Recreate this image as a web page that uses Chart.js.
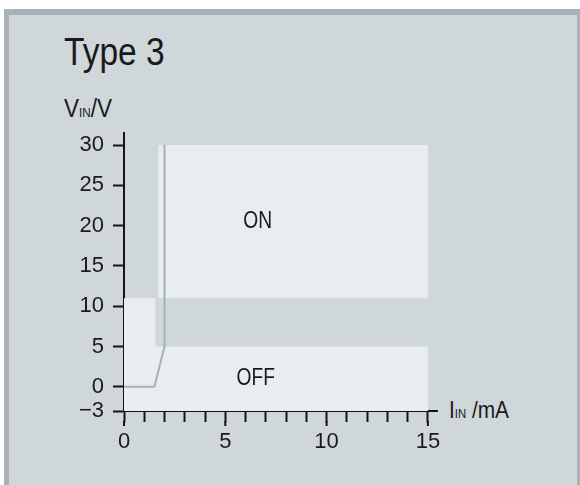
<!DOCTYPE html>
<html>
<head>
<meta charset="utf-8">
<script src="https://cdn.jsdelivr.net/npm/chart.js@4"></script>
<style>
  html, body { margin: 0; padding: 0; background: #fff; }
  body { width: 580px; height: 485px; position: relative; overflow: hidden; }
  .frame {
    position: absolute; left: 4px; top: 9px; width: 568px; height: 490px;
    background: #cfd7db;
    border-left: 5px solid #a8b3b8; border-top: 6px solid #a8b3b8; border-right: 3px solid #a8b3b8;
  }
  .txt { position: absolute; color: #1a1a1a; font-family: 'Liberation Sans', Arial, sans-serif; white-space: nowrap; transform-origin: 0 0; }
  .title { left: 64px; top: 30px; font-size: 39px; transform: scaleX(0.86); }
  .ylab { left: 64px; top: 94px; font-size: 25px; transform: scaleX(0.9); }
  .xlab { left: 449px; top: 396px; font-size: 24px; transform: scaleX(0.87); }
  .sub { font-size: 13px; text-transform: uppercase; }
  canvas { position: absolute; left: 0; top: 0; }
</style>
</head>
<body>
<div class="frame"></div>
<div class="txt title">Type 3</div>
<div class="txt ylab">V<span class="sub">in</span>/V</div>
<div class="txt xlab">I<span class="sub">in</span> /mA</div>
<canvas id="c" width="580" height="485"></canvas>
<script>
// characteristic curve
const curveI = [0, 1.5, 2.0, 2.0]
const curveV = [0, 0, 5, 30]

// switching zones (current range, voltage range)
const onZoneI = [1.7, 15]
const onZoneV = [11, 30]
const offZoneI = [0, 15]
const offZoneV = [-3, 5]
const lowZoneI = [0, 1.55]
const lowZoneV = [-3, 11]

const zoneNames = ['ON', 'OFF']
const zoneNameI = [6.6, 6.5]
const zoneNameV = [20.5, 1.1]

const xTicks = [0, 1, 2, 3, 4, 5, 6, 7, 8, 9, 10, 11, 12, 13, 14, 15]
const xTickLabels = ['0', '', '', '', '', '5', '', '', '', '', '10', '', '', '', '', '15']
const yTicks = [-3, 0, 5, 10, 15, 20, 25, 30]

const zoneColor = '#e8eeef'
const axisColor = '#141414'

const zones = {
  id: 'zones',
  beforeDatasetsDraw(chart) {
    const { ctx, scales: { x, y } } = chart
    ctx.save()
    ctx.fillStyle = zoneColor
    ;[[onZoneI, onZoneV], [offZoneI, offZoneV], [lowZoneI, lowZoneV]].forEach(([zi, zv]) => {
      const x0 = x.getPixelForValue(zi[0]), x1 = x.getPixelForValue(zi[1])
      const y0 = y.getPixelForValue(zv[0]), y1 = y.getPixelForValue(zv[1])
      ctx.fillRect(x0, y1, x1 - x0, y0 - y1)
    })
    ctx.restore()
  },
  afterDatasetsDraw(chart) {
    const { ctx, scales: { x, y } } = chart
    ctx.save()
    ctx.fillStyle = '#1a1a1a'
    ctx.font = "24px 'Liberation Sans', Arial, sans-serif"
    ctx.textAlign = 'center'
    ctx.textBaseline = 'middle'
    zoneNames.forEach((n, i) => {
      const px = x.getPixelForValue(zoneNameI[i]), py = y.getPixelForValue(zoneNameV[i])
      ctx.save()
      ctx.translate(px, py)
      ctx.scale(0.8, 1)
      ctx.fillText(n, 0, 0)
      ctx.restore()
    })
    // longer major ticks on the current axis
    ctx.strokeStyle = axisColor
    ctx.lineWidth = 2
    xTicks.forEach((v, i) => {
      if (!xTickLabels[i]) return
      const px = x.getPixelForValue(v)
      ctx.beginPath()
      ctx.moveTo(px, y.bottom + 10)
      ctx.lineTo(px, y.bottom + 15)
      ctx.stroke()
    })
    ctx.restore()
  }
}

new Chart(document.getElementById('c'), {
  type: 'scatter',
  data: {
    datasets: [{
      data: curveI.map((v, i) => ({ x: v, y: curveV[i] })),
      showLine: true,
      borderColor: '#a3b1b8',
      borderWidth: 2,
      pointRadius: 0,
      tension: 0
    }]
  },
  options: {
    responsive: false,
    devicePixelRatio: 1,
    animation: false,
    layout: { padding: { left: 0, top: 133, right: 143, bottom: 0 } },
    plugins: { legend: { display: false }, tooltip: { enabled: false } },
    scales: {
      x: {
        type: 'linear',
        min: 0,
        max: 15.45,
        afterFit: (s) => { s.height = 74 },
        afterBuildTicks: (s) => { s.ticks = xTicks.map(v => ({ value: v })) },
        border: { display: true, color: axisColor, width: 2 },
        grid: { drawOnChartArea: false, drawTicks: true, tickLength: 11, tickColor: axisColor, tickWidth: 2 },
        ticks: {
          color: '#1a1a1a',
          padding: 7,
          autoSkip: false,
          maxRotation: 0,
          minRotation: 0,
          font: { family: "'Liberation Sans', Arial, sans-serif", size: 22 },
          callback: (v, i) => xTickLabels[i]
        }
      },
      y: {
        type: 'linear',
        min: -3,
        max: 31.5,
        afterFit: (s) => { s.width = 124 },
        afterBuildTicks: (s) => { s.ticks = yTicks.map(v => ({ value: v })) },
        border: { display: true, color: axisColor, width: 2 },
        grid: { drawOnChartArea: false, drawTicks: true, tickLength: 11, tickColor: axisColor, tickWidth: 2 },
        ticks: {
          color: '#1a1a1a',
          padding: 9,
          font: { family: "'Liberation Sans', Arial, sans-serif", size: 22 },
          callback: (v) => v < 0 ? '\u2212' + Math.abs(v) : String(v)
        }
      }
    }
  },
  plugins: [zones]
})
</script>
</body>
</html>
